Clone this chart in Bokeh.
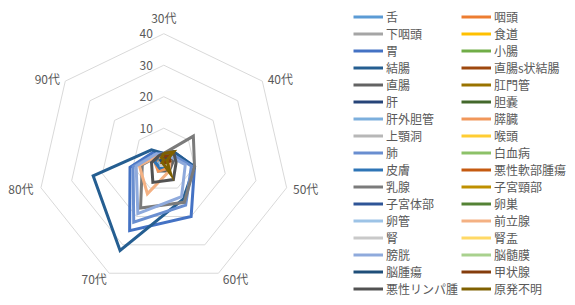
import numpy as np
from bokeh.plotting import figure
from bokeh.models import Range1d, Legend, LegendItem, ColumnDataSource
from bokeh.core.properties import value
from bokeh.embed import file_html
from bokeh.resources import INLINE

# ---------------- data ----------------
categories = ["30代", "40代", "50代", "60代", "70代", "80代", "90代"]
ring_values = [10, 20, 30, 40]
tick_labels = ["10", "20", "30", "40"]

series_names = ["舌", "咽頭", "下咽頭", "食道", "胃", "小腸", "結腸", "直腸s状結腸",
                "直腸", "肛門管", "肝", "胆嚢", "肝外胆管", "膵臓", "上顎洞", "喉頭",
                "肺", "白血病", "皮膚", "悪性軟部腫瘍", "乳腺", "子宮頸部", "子宮体部",
                "卵巣", "卵管", "前立腺", "腎", "腎盂", "膀胱", "脳髄膜", "脳腫瘍",
                "甲状腺", "悪性リンパ腫", "原発不明"]

tongue       = [1, 1, 1, 2, 2, 1, 0]
pharynx      = [0, 1, 1, 1, 1, 0, 0]
hypopharynx  = [0, 0, 1, 2, 1, 1, 0]
esophagus    = [0, 1, 2, 3, 3, 1, 0]
stomach      = [2, 4, 10, 20, 25, 11, 4]
small_int    = [0, 0, 1, 1, 1, 0, 0]
colon        = [2, 4, 10, 14, 32, 23, 5]
rectosigmoid = [0, 1, 2, 2, 3, 1, 0]
rectum       = [1, 2, 3, 4, 4, 2, 1]
anal         = [0, 0, 0, 1, 1, 0, 0]
liver        = [0, 1, 1, 2, 3, 2, 0]
gallbladder  = [0, 0, 1, 1, 2, 1, 0]
bile_duct    = [0, 0, 1, 1, 2, 2, 1]
pancreas     = [0, 1, 2, 3, 4, 3, 1]
maxillary    = [0, 0, 0, 1, 1, 0, 0]
larynx       = [0, 0, 1, 1, 1, 0, 0]
lung         = [2, 3, 9, 16, 22, 10, 3]
leukemia     = [1, 1, 1, 1, 1, 1, 0]
skin         = [0, 1, 1, 2, 3, 3, 2]
soft_tissue  = [0, 1, 1, 1, 1, 0, 0]
breast       = [2, 12, 10, 15, 17, 7, 2]
cervix       = [1, 2, 1, 1, 1, 0, 0]
uterus       = [0, 1, 2, 2, 1, 1, 0]
ovary        = [1, 2, 2, 1, 1, 0, 0]
fallopian    = [0, 0, 0, 1, 0, 0, 0]
prostate     = [0, 1, 2, 4, 12, 8, 2]
kidney       = [0, 1, 1, 2, 2, 1, 0]
renal_pelvis = [0, 0, 1, 1, 1, 1, 0]
bladder      = [1, 2, 7, 13, 19, 9, 3]
meninges     = [0, 0, 0, 1, 1, 0, 0]
brain        = [0, 1, 1, 1, 1, 1, 0]
thyroid      = [1, 2, 2, 1, 1, 0, 0]
lymphoma     = [2, 4, 4, 7, 8, 4, 2]
unknown      = [2, 4, 1, 5, 1, 0, 1]

series_values = [tongue, pharynx, hypopharynx, esophagus, stomach, small_int, colon,
                 rectosigmoid, rectum, anal, liver, gallbladder, bile_duct, pancreas,
                 maxillary, larynx, lung, leukemia, skin, soft_tissue, breast, cervix,
                 uterus, ovary, fallopian, prostate, kidney, renal_pelvis, bladder,
                 meninges, brain, thyroid, lymphoma, unknown]

series_colors = ["#5B9BD5", "#ED7D31", "#A5A5A5", "#FFC000", "#4472C4", "#70AD47",
                 "#255E91", "#9E480E", "#636363", "#997300", "#264478", "#43682B",
                 "#7CAFDD", "#F1975A", "#B7B7B7", "#FFCD33", "#698ED0", "#8CC168",
                 "#2E75B6", "#C55A11", "#7B7B7B", "#BF9000", "#2F5597", "#548235",
                 "#9DC3E6", "#F4B183", "#C9C9C9", "#FFD966", "#8FAADC", "#A9D18E",
                 "#1F4E79", "#843C0C", "#525252", "#7F6000"]

# ---------------- layout ----------------
W, H = 567, 297
PX = 3.15              # pixels per value unit
CX, CY = 163.3, 159.2  # centre of radar in canvas pixels
FONT = "Noto Sans CJK JP"
TXT = "#595959"

p = figure(width=W, height=H, output_backend="svg", toolbar_location=None,
           x_range=Range1d(-CX / PX, (W - CX) / PX),
           y_range=Range1d(-(H - CY) / PX, CY / PX),
           x_axis_location=None, y_axis_location=None, min_border=0)
p.grid.visible = False
p.outline_line_color = None
p.background_fill_color = "white"
p.border_fill_color = "white"

n = len(categories)
theta = 2 * np.pi * np.arange(n) / n
sx, sy = np.sin(theta), np.cos(theta)

# grid rings
for r in ring_values:
    xs = list(r * sx) + [r * sx[0]]
    ys = list(r * sy) + [r * sy[0]]
    p.line(xs, ys, line_color="#D9D9D9", line_width=1)

# tick labels
p.text(x=[0] * len(ring_values), y=ring_values, text=tick_labels,
       text_font=value(FONT), text_font_size="12px", text_color=TXT,
       text_align="right", text_baseline="middle", x_offset=-11)

# category labels
rmax = ring_values[-1]
lab_dx = [0, 18, 19, 17, -15, -20, -18]
lab_dy = [-16.5, -3, 1, 5, 5, 1, -3]
p.text(x=list(rmax * sx), y=list(rmax * sy), text=categories,
       x_offset=lab_dx, y_offset=lab_dy,
       text_font=value(FONT), text_font_size="12px", text_color=TXT,
       text_align="center", text_baseline="middle")

# series
items = []
for name, vals, col in zip(series_names, series_values, series_colors):
    v = np.array(vals, dtype=float)
    xs = list(v * sx) + [v[0] * sx[0]]
    ys = list(v * sy) + [v[0] * sy[0]]
    src = ColumnDataSource(dict(x=xs, y=ys))
    rr = p.line("x", "y", source=src, line_color=col, line_width=3, line_join="miter")
    items.append(LegendItem(label=name, renderers=[rr]))

left_items = items[0::2]
right_items = items[1::2]

for its, loc in ((left_items, (353, 0)), (right_items, (461, 0))):
    lg = Legend(items=its, location=loc, orientation="vertical",
                glyph_width=30, glyph_height=17, label_height=17,
                label_standoff=3, spacing=0, padding=0, margin=0,
                border_line_color=None, background_fill_alpha=0,
                label_text_font=FONT, label_text_font_size="12px",
                label_text_color=TXT)
    p.add_layout(lg)

open("out.html", "w").write(file_html(p, INLINE))
